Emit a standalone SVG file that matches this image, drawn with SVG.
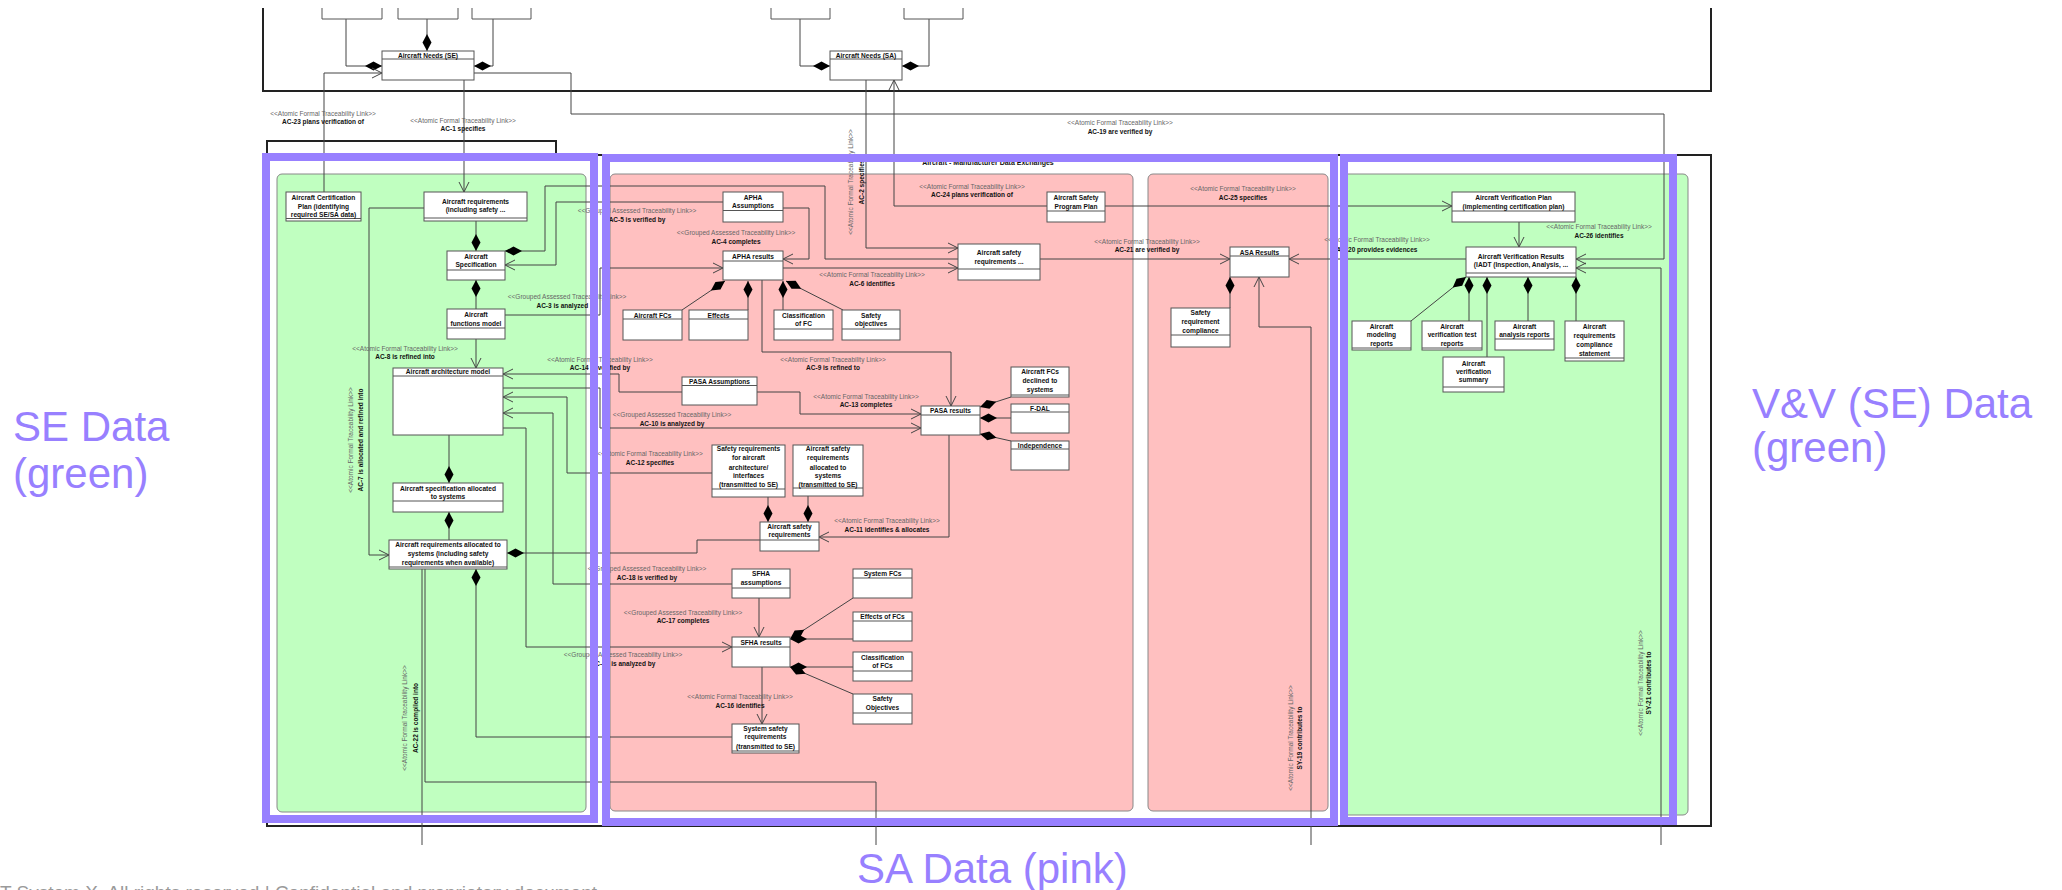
<svg xmlns="http://www.w3.org/2000/svg" width="2062" height="890" viewBox="0 0 2062 890">
<defs>
<style>
.pkg{fill:none;stroke:#222;stroke-width:2}
.c{fill:none;stroke:#444;stroke-width:1}
.a{marker-end:url(#arr)}
.d{marker-start:url(#dia)}
.box rect{fill:#fff;stroke:#555;stroke-width:1}
.box line{stroke:#555;stroke-width:1}
.box path{fill:none;stroke:#555;stroke-width:1}
.bt{font-family:"Liberation Sans",Arial,sans-serif;font-size:6.6px;font-weight:bold;fill:#111;text-anchor:middle}
.st{font-family:"Liberation Sans",Arial,sans-serif;font-size:6.5px;fill:#666;text-anchor:middle}
.nm{font-family:"Liberation Sans",Arial,sans-serif;font-size:6.5px;font-weight:bold;fill:#111;text-anchor:middle}
.big{font-family:"Liberation Sans",Arial,sans-serif;font-size:42px;fill:#9880FF}
.frame{fill:none;stroke:#9880FF;stroke-width:8}
.green{fill:#C0FFC0;stroke:#888;stroke-width:1}
.pink{fill:#FFC0C0;stroke:#888;stroke-width:1}
</style>
<marker id="arr" viewBox="0 0 12 12" refX="11" refY="6" markerWidth="12" markerHeight="12" markerUnits="userSpaceOnUse" orient="auto">
<path d="M1,1 L11,6 L1,11" fill="none" stroke="#444" stroke-width="1"/>
</marker>
<marker id="dia" viewBox="0 0 18 10" refX="0" refY="5" markerWidth="18" markerHeight="10" markerUnits="userSpaceOnUse" orient="auto">
<path d="M0,5 L8.5,0.5 L17,5 L8.5,9.5 z" fill="#000"/>
</marker>
</defs>
<rect x="0" y="0" width="2062" height="890" fill="#fff"/>

<!-- upper package (needs) -->
<path class="pkg" d="M263,8 V91 H1711 V8"/>
<!-- lower package: Aircraft - Manufacturer Data Exchanges -->
<rect class="pkg" x="267" y="141" width="289" height="14"/>
<rect class="pkg" x="267" y="155" width="1444" height="671"/>
<text x="988" y="165" font-family="Liberation Sans, Arial, sans-serif" font-size="7" font-weight="bold" fill="#111" text-anchor="middle">Aircraft - Manufacturer Data Exchanges</text>

<!-- swimlane areas -->
<rect class="green" x="277" y="174" width="309" height="638" rx="5"/>
<rect class="pink" x="610" y="174" width="523" height="637" rx="5"/>
<rect class="pink" x="1148" y="174" width="180" height="637" rx="5"/>
<rect class="green" x="1343" y="174" width="345" height="641" rx="5"/>

<g id="connectors">
<!-- needs compositions -->
<path class="c d" d="M382,66 H346 V19"/>
<path class="c d" d="M427,51 V19"/>
<path class="c d" d="M474,66 H493 V19"/>
<path class="c d" d="M830,66 H800 V19"/>
<path class="c d" d="M902,66 H929 V19"/>
<!-- traceability links -->
<path class="c a" d="M324,192 V73 H382"/>
<path class="c a" d="M464,80 V192"/>
<path class="c a" d="M474,73 H571 V114 H1664 V259 H1576"/>
<path class="c a" d="M866,80 V248 H958"/>
<path class="c a" d="M1047,206 H894 V80"/>
<path class="c a" d="M1105,206 H1452"/>
<path class="c a" d="M1040,259 H1230"/>
<path class="c a" d="M1466,259 H1289"/>
<path class="c a" d="M1519,222 V247"/>
<path class="c a" d="M1661,845 V268 H1576"/>
<path class="c a" d="M1311,845 V327 H1259 V277"/>
<!-- SE structure -->
<path class="c d" d="M476,251 V221"/>
<path class="c d" d="M476,280 V309"/>
<path class="c a" d="M476,339 V368"/>
<path class="c d" d="M449,483 V435"/>
<path class="c d" d="M449,512 V540"/>
<path class="c a" d="M424,208 H369 V555 H389"/>
<path class="c d" d="M507,553 H697 V540 H760"/>
<path class="c d" d="M476,569 V737 H732"/>
<path class="c" d="M422,569 V845"/>
<path class="c" d="M425,569 V782 H876 V845"/>
<path class="c d" d="M505,251 H545 V186 H825 V259 H958"/>
<path class="c a" d="M723,202 H556 V265 H505"/>
<path class="c a" d="M505,315 H600 V268 H723"/>
<!-- APHA -->
<path class="c a" d="M783,208 H809 V259 H783"/>
<path class="c a" d="M783,268 H958"/>
<path class="c d" d="M725,281 L682,310"/>
<path class="c d" d="M748,281 V310"/>
<path class="c d" d="M783,281 V310"/>
<path class="c d" d="M786,281 L843,310"/>
<path class="c a" d="M762,280 V352 H951 V406"/>
<!-- PASA -->
<path class="c a" d="M682,392 H619 V374 H503"/>
<path class="c a" d="M503,388 H600 V428 H921"/>
<path class="c a" d="M712,473 H567 V397 H503"/>
<path class="c a" d="M732,584 H553 V413 H503"/>
<path class="c a" d="M503,428 H526 V647 H732"/>
<path class="c a" d="M757,392 H800 V414 H921"/>
<path class="c d" d="M980,407 L1011,397"/>
<path class="c d" d="M980,418 H1011"/>
<path class="c d" d="M980,434 L1011,441"/>
<path class="c a" d="M949,435 V537 H819"/>
<path class="c d" d="M768,522 V497"/>
<path class="c d" d="M808,522 V496"/>
<!-- SFHA -->
<path class="c a" d="M759,598 V637"/>
<path class="c d" d="M790,639 L853,598"/>
<path class="c d" d="M790,639 H853"/>
<path class="c d" d="M790,667 H853"/>
<path class="c d" d="M790,667 L853,694"/>
<path class="c a" d="M762,667 V724"/>
<!-- ASA -->
<path class="c d" d="M1230,277 V308"/>
<!-- verification results -->
<path class="c d" d="M1466,277 L1411,321"/>
<path class="c d" d="M1469,277 V321"/>
<path class="c d" d="M1487,277 V357"/>
<path class="c d" d="M1528,277 V321"/>
<path class="c d" d="M1576,277 V321"/>
</g>

<!-- needs boxes -->
<g id="needs-part-1" class="box"><path d="M322,8 V19 H382 V8"/></g>
<g id="needs-part-2" class="box"><path d="M398,8 V19 H458 V8"/></g>
<g id="needs-part-3" class="box"><path d="M472,8 V19 H531 V8"/></g>
<g id="needs-part-4" class="box"><path d="M771,8 V19 H830 V8"/></g>
<g id="needs-part-5" class="box"><path d="M904,8 V19 H963 V8"/></g>
<g id="needs-se" class="box"><rect x="382" y="51" width="92" height="29"/><line x1="382" y1="59" x2="474" y2="59"/><text class="bt" x="428" y="57.6">Aircraft Needs (SE)</text></g>
<g id="needs-sa" class="box"><rect x="830" y="51" width="72" height="29"/><line x1="830" y1="59" x2="902" y2="59"/><text class="bt" x="866" y="57.6">Aircraft Needs (SA)</text></g>

<!-- SE data -->
<g id="cert-plan" class="box"><rect x="286" y="192" width="75" height="29"/><line x1="286" y1="218.5" x2="361" y2="218.5"/><text class="bt" x="323.5" y="200">Aircraft Certification</text><text class="bt" x="323.5" y="208.5">Plan (identifying</text><text class="bt" x="323.5" y="217">required SE/SA data)</text></g>
<g id="ac-req" class="box"><rect x="424" y="192" width="103" height="29"/><line x1="424" y1="218" x2="527" y2="218"/><text class="bt" x="475.5" y="204">Aircraft requirements</text><text class="bt" x="475.5" y="212.3">(including safety ...</text></g>
<g id="ac-spec" class="box"><rect x="447" y="251" width="58" height="29"/><line x1="447" y1="270" x2="505" y2="270"/><text class="bt" x="476" y="259">Aircraft</text><text class="bt" x="476" y="267.3">Specification</text></g>
<g id="ac-func" class="box"><rect x="447" y="309" width="58" height="30"/><line x1="447" y1="328" x2="505" y2="328"/><text class="bt" x="476" y="317.3">Aircraft</text><text class="bt" x="476" y="326.3">functions model</text></g>
<g id="ac-arch" class="box"><rect x="393" y="368" width="110" height="67"/><line x1="393" y1="376" x2="503" y2="376"/><text class="bt" x="448" y="374.3">Aircraft architecture model</text></g>
<g id="spec-alloc" class="box"><rect x="393" y="483" width="110" height="29"/><line x1="393" y1="501" x2="503" y2="501"/><text class="bt" x="448" y="490.6">Aircraft specification allocated</text><text class="bt" x="448" y="499.3">to systems</text></g>
<g id="req-alloc" class="box"><rect x="389" y="540" width="118" height="29"/><line x1="389" y1="567" x2="507" y2="567"/><text class="bt" x="448" y="547.3">Aircraft requirements allocated to</text><text class="bt" x="448" y="555.6">systems (including safety</text><text class="bt" x="448" y="564.5">requirements when available)</text></g>

<!-- SA data -->
<g id="apha-assumptions" class="box"><rect x="723" y="192" width="60" height="30"/><line x1="723" y1="210.5" x2="783" y2="210.5"/><text class="bt" x="753" y="200">APHA</text><text class="bt" x="753" y="208.3">Assumptions</text></g>
<g id="apha-results" class="box"><rect x="723" y="251" width="60" height="29"/><line x1="723" y1="261" x2="783" y2="261"/><text class="bt" x="753" y="259">APHA results</text></g>
<g id="aircraft-fcs" class="box"><rect x="623" y="310" width="59" height="30"/><line x1="623" y1="319" x2="682" y2="319"/><text class="bt" x="652.5" y="317.6">Aircraft FCs</text></g>
<g id="effects" class="box"><rect x="689" y="310" width="59" height="30"/><line x1="689" y1="319" x2="748" y2="319"/><text class="bt" x="718.5" y="317.6">Effects</text></g>
<g id="classification-fc" class="box"><rect x="774" y="310" width="59" height="30"/><line x1="774" y1="329" x2="833" y2="329"/><text class="bt" x="803.5" y="317.6">Classification</text><text class="bt" x="803.5" y="326.3">of FC</text></g>
<g id="safety-objectives" class="box"><rect x="842" y="310" width="58" height="30"/><line x1="842" y1="329" x2="900" y2="329"/><text class="bt" x="871" y="317.6">Safety</text><text class="bt" x="871" y="326.3">objectives</text></g>
<g id="ac-safety-req-top" class="box"><rect x="958" y="244" width="82" height="36"/><line x1="958" y1="269" x2="1040" y2="269"/><text class="bt" x="999" y="255">Aircraft safety</text><text class="bt" x="999" y="264">requirements ...</text></g>
<g id="safety-program-plan" class="box"><rect x="1047" y="192" width="58" height="30"/><line x1="1047" y1="211" x2="1105" y2="211"/><text class="bt" x="1076" y="200">Aircraft Safety</text><text class="bt" x="1076" y="208.6">Program Plan</text></g>
<g id="pasa-assumptions" class="box"><rect x="682" y="377" width="75" height="28"/><line x1="682" y1="385.5" x2="757" y2="385.5"/><text class="bt" x="719.5" y="383.8">PASA Assumptions</text></g>
<g id="pasa-results" class="box"><rect x="921" y="406" width="59" height="29"/><line x1="921" y1="415" x2="980" y2="415"/><text class="bt" x="950.5" y="413.3">PASA results</text></g>
<g id="fcs-declined" class="box"><rect x="1011" y="367" width="58" height="30"/><line x1="1011" y1="395" x2="1069" y2="395"/><text class="bt" x="1040" y="374">Aircraft FCs</text><text class="bt" x="1040" y="382.6">declined to</text><text class="bt" x="1040" y="392">systems</text></g>
<g id="f-dal" class="box"><rect x="1011" y="404" width="58" height="29"/><line x1="1011" y1="412" x2="1069" y2="412"/><text class="bt" x="1040" y="410.6">F-DAL</text></g>
<g id="independence" class="box"><rect x="1011" y="441" width="58" height="29"/><line x1="1011" y1="449" x2="1069" y2="449"/><text class="bt" x="1040" y="447.6">Independence</text></g>
<g id="sr-arch" class="box"><rect x="712" y="445" width="73" height="52"/><line x1="712" y1="489" x2="785" y2="489"/><text class="bt" x="748.5" y="451.3">Safety requirements</text><text class="bt" x="748.5" y="460">for aircraft</text><text class="bt" x="748.5" y="469.6">architecture/</text><text class="bt" x="748.5" y="478.3">interfaces</text><text class="bt" x="748.5" y="486.6">(transmitted to SE)</text></g>
<g id="sr-alloc" class="box"><rect x="793" y="445" width="70" height="51"/><line x1="793" y1="488" x2="863" y2="488"/><text class="bt" x="828" y="451.3">Aircraft safety</text><text class="bt" x="828" y="460">requirements</text><text class="bt" x="828" y="469.6">allocated to</text><text class="bt" x="828" y="478.3">systems</text><text class="bt" x="828" y="486.6">(transmitted to SE)</text></g>
<g id="ac-safety-req" class="box"><rect x="760" y="522" width="59" height="29"/><line x1="760" y1="540" x2="819" y2="540"/><text class="bt" x="789.5" y="529">Aircraft safety</text><text class="bt" x="789.5" y="537.3">requirements</text></g>
<g id="sfha-assumptions" class="box"><rect x="732" y="569" width="58" height="29"/><line x1="732" y1="588" x2="790" y2="588"/><text class="bt" x="761" y="576.3">SFHA</text><text class="bt" x="761" y="585">assumptions</text></g>
<g id="system-fcs" class="box"><rect x="853" y="569" width="59" height="29"/><line x1="853" y1="578" x2="912" y2="578"/><text class="bt" x="882.5" y="576.3">System FCs</text></g>
<g id="sfha-results" class="box"><rect x="732" y="637" width="58" height="30"/><line x1="732" y1="647" x2="790" y2="647"/><text class="bt" x="761" y="645">SFHA results</text></g>
<g id="effects-fcs" class="box"><rect x="853" y="612" width="59" height="29"/><line x1="853" y1="621" x2="912" y2="621"/><text class="bt" x="882.5" y="619">Effects of FCs</text></g>
<g id="classification-fcs" class="box"><rect x="853" y="652" width="59" height="29"/><line x1="853" y1="671" x2="912" y2="671"/><text class="bt" x="882.5" y="659.6">Classification</text><text class="bt" x="882.5" y="668.3">of FCs</text></g>
<g id="safety-objectives-fcs" class="box"><rect x="853" y="694" width="59" height="30"/><line x1="853" y1="713" x2="912" y2="713"/><text class="bt" x="882.5" y="701.3">Safety</text><text class="bt" x="882.5" y="710">Objectives</text></g>
<g id="system-safety-req" class="box"><rect x="732" y="724" width="67" height="29"/><line x1="732" y1="751" x2="799" y2="751"/><text class="bt" x="765.5" y="730.6">System safety</text><text class="bt" x="765.5" y="739.3">requirements</text><text class="bt" x="765.5" y="748.5">(transmitted to SE)</text></g>
<g id="asa-results" class="box"><rect x="1230" y="247" width="59" height="30"/><line x1="1230" y1="256" x2="1289" y2="256"/><text class="bt" x="1259.5" y="254.6">ASA Results</text></g>
<g id="sr-compliance" class="box"><rect x="1171" y="308" width="59" height="39"/><line x1="1171" y1="335" x2="1230" y2="335"/><text class="bt" x="1200.5" y="315">Safety</text><text class="bt" x="1200.5" y="324">requirement</text><text class="bt" x="1200.5" y="333.3">compliance</text></g>

<!-- V&V data -->
<g id="verification-plan" class="box"><rect x="1452" y="192" width="123" height="30"/><line x1="1452" y1="211" x2="1575" y2="211"/><text class="bt" x="1513.5" y="200">Aircraft Verification Plan</text><text class="bt" x="1513.5" y="209">(implementing certification plan)</text></g>
<g id="verification-results" class="box"><rect x="1466" y="247" width="110" height="30"/><line x1="1466" y1="273" x2="1576" y2="273"/><text class="bt" x="1521" y="259">Aircraft Verification Results</text><text class="bt" x="1521" y="267.3">(IADT (Inspection, Analysis, ...</text></g>
<g id="modeling-reports" class="box"><rect x="1352" y="321" width="59" height="29"/><line x1="1352" y1="348" x2="1411" y2="348"/><text class="bt" x="1381.5" y="329">Aircraft</text><text class="bt" x="1381.5" y="337.3">modeling</text><text class="bt" x="1381.5" y="345.6">reports</text></g>
<g id="verification-test-reports" class="box"><rect x="1422" y="321" width="60" height="29"/><line x1="1422" y1="348" x2="1482" y2="348"/><text class="bt" x="1452" y="329">Aircraft</text><text class="bt" x="1452" y="337.3">verification test</text><text class="bt" x="1452" y="345.6">reports</text></g>
<g id="verification-summary" class="box"><rect x="1443" y="357" width="61" height="35"/><line x1="1443" y1="387" x2="1504" y2="387"/><text class="bt" x="1473.5" y="365.6">Aircraft</text><text class="bt" x="1473.5" y="374">verification</text><text class="bt" x="1473.5" y="382.3">summary</text></g>
<g id="analysis-reports" class="box"><rect x="1495" y="321" width="59" height="29"/><line x1="1495" y1="339" x2="1554" y2="339"/><text class="bt" x="1524.5" y="329">Aircraft</text><text class="bt" x="1524.5" y="337.3">analysis reports</text></g>
<g id="compliance-statement" class="box"><rect x="1565" y="321" width="59" height="40"/><line x1="1565" y1="358" x2="1624" y2="358"/><text class="bt" x="1594.5" y="329">Aircraft</text><text class="bt" x="1594.5" y="338.3">requirements</text><text class="bt" x="1594.5" y="347.3">compliance</text><text class="bt" x="1594.5" y="355.6">statement</text></g>

<!-- link labels -->
<g id="link-labels">
<text class="st" x="323" y="115.6">&lt;&lt;Atomic Formal Traceability Link&gt;&gt;</text><text class="nm" x="323" y="124">AC-23 plans verification of</text>
<text class="st" x="463" y="122.6">&lt;&lt;Atomic Formal Traceability Link&gt;&gt;</text><text class="nm" x="463" y="131.3">AC-1 specifies</text>
<text class="st" x="1120" y="125">&lt;&lt;Atomic Formal Traceability Link&gt;&gt;</text><text class="nm" x="1120" y="133.6">AC-19 are verified by</text>
<text class="st" x="972" y="189">&lt;&lt;Atomic Formal Traceability Link&gt;&gt;</text><text class="nm" x="972" y="197.3">AC-24 plans verification of</text>
<text class="st" x="1243" y="191.3">&lt;&lt;Atomic Formal Traceability Link&gt;&gt;</text><text class="nm" x="1243" y="200">AC-25 specifies</text>
<text class="st" x="1147" y="244">&lt;&lt;Atomic Formal Traceability Link&gt;&gt;</text><text class="nm" x="1147" y="252.3">AC-21 are verified by</text>
<text class="st" x="1377" y="242.3">&lt;&lt;Atomic Formal Traceability Link&gt;&gt;</text><text class="nm" x="1377" y="251.6">AC-20 provides evidences</text>
<text class="st" x="1599" y="229">&lt;&lt;Atomic Formal Traceability Link&gt;&gt;</text><text class="nm" x="1599" y="238">AC-26 identifies</text>
<text class="st" x="637" y="213.3">&lt;&lt;Grouped Assessed Traceability Link&gt;&gt;</text><text class="nm" x="637" y="222.3">AC-5 is verified by</text>
<text class="st" x="736" y="235">&lt;&lt;Grouped Assessed Traceability Link&gt;&gt;</text><text class="nm" x="736" y="244">AC-4 completes</text>
<text class="st" x="567" y="299">&lt;&lt;Grouped Assessed Traceability Link&gt;&gt;</text><text class="nm" x="567" y="308">AC-3 is analyzed by</text>
<text class="st" x="872" y="277.3">&lt;&lt;Atomic Formal Traceability Link&gt;&gt;</text><text class="nm" x="872" y="285.6">AC-6 identifies</text>
<text class="st" x="405" y="350.6">&lt;&lt;Atomic Formal Traceability Link&gt;&gt;</text><text class="nm" x="405" y="359.3">AC-8 is refined into</text>
<text class="st" x="600" y="361.6">&lt;&lt;Atomic Formal Traceability Link&gt;&gt;</text><text class="nm" x="600" y="370.3">AC-14 is verified by</text>
<text class="st" x="833" y="361.6">&lt;&lt;Atomic Formal Traceability Link&gt;&gt;</text><text class="nm" x="833" y="370.3">AC-9 is refined to</text>
<text class="st" x="866" y="399">&lt;&lt;Atomic Formal Traceability Link&gt;&gt;</text><text class="nm" x="866" y="407.3">AC-13 completes</text>
<text class="st" x="672" y="417.3">&lt;&lt;Grouped Assessed Traceability Link&gt;&gt;</text><text class="nm" x="672" y="425.6">AC-10 is analyzed by</text>
<text class="st" x="650" y="456.3">&lt;&lt;Atomic Formal Traceability Link&gt;&gt;</text><text class="nm" x="650" y="465">AC-12 specifies</text>
<text class="st" x="887" y="523.3">&lt;&lt;Atomic Formal Traceability Link&gt;&gt;</text><text class="nm" x="887" y="532.3">AC-11 identifies &amp; allocates</text>
<text class="st" x="647" y="571.3">&lt;&lt;Grouped Assessed Traceability Link&gt;&gt;</text><text class="nm" x="647" y="580">AC-18 is verified by</text>
<text class="st" x="683" y="614.6">&lt;&lt;Grouped Assessed Traceability Link&gt;&gt;</text><text class="nm" x="683" y="623">AC-17 completes</text>
<text class="st" x="623" y="657.3">&lt;&lt;Grouped Assessed Traceability Link&gt;&gt;</text><text class="nm" x="623" y="665.6">AC-15 is analyzed by</text>
<text class="st" x="740" y="699">&lt;&lt;Atomic Formal Traceability Link&gt;&gt;</text><text class="nm" x="740" y="707.6">AC-16 identifies</text>
<text class="st" transform="translate(353,440) rotate(-90)">&lt;&lt;Atomic Formal Traceability Link&gt;&gt;</text><text class="nm" transform="translate(363,440) rotate(-90)">AC-7 is allocated and refined into</text>
<text class="st" transform="translate(853,182) rotate(-90)">&lt;&lt;Atomic Formal Traceability Link&gt;&gt;</text><text class="nm" transform="translate(864,182) rotate(-90)">AC-2 specifies</text>
<text class="st" transform="translate(407,718) rotate(-90)">&lt;&lt;Atomic Formal Traceability Link&gt;&gt;</text><text class="nm" transform="translate(418,718) rotate(-90)">AC-22 is compiled into</text>
<text class="st" transform="translate(1293,738) rotate(-90)">&lt;&lt;Atomic Formal Traceability Link&gt;&gt;</text><text class="nm" transform="translate(1302,738) rotate(-90)">SY-19 contributes to</text>
<text class="st" transform="translate(1643,683) rotate(-90)">&lt;&lt;Atomic Formal Traceability Link&gt;&gt;</text><text class="nm" transform="translate(1651,683) rotate(-90)">SY-21 contributes to</text>
</g>

<!-- highlight frames -->
<g id="frames">
<rect class="frame" x="266" y="157" width="328" height="662"/>
<rect class="frame" x="606" y="158" width="728" height="664"/>
<rect class="frame" x="1344" y="158" width="329" height="663"/>
</g>

<text class="big" x="13" y="441">SE Data</text>
<text class="big" x="13" y="488">(green)</text>
<text class="big" x="1752" y="418">V&amp;V (SE) Data</text>
<text class="big" x="1752" y="462">(green)</text>
<text class="big" x="857" y="883">SA Data (pink)</text>
<text x="0" y="899" font-family="Liberation Sans, Arial, sans-serif" font-size="19" fill="#9a9a9a">T System X. All rights reserved | Confidential and proprietary document</text>
</svg>
